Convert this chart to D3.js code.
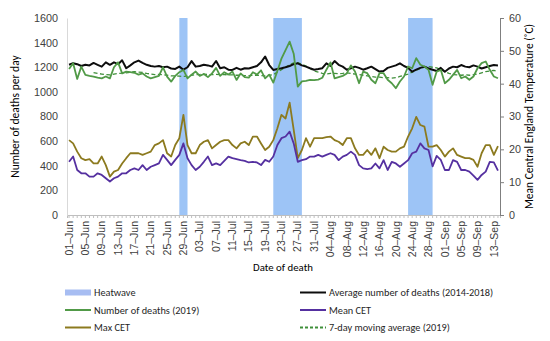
<!DOCTYPE html>
<html>
<head>
<meta charset="utf-8">
<script src="https://cdn.jsdelivr.net/npm/d3@7"></script>
<style>
  body { margin: 0; background: #fff; }
  svg { font-family: Carlito, Calibri, Lato, sans-serif; }
  .tick text { fill: #404040; }
</style>
</head>
<body>
<div id="chart"></div>
<script>
// days 01-Jun-2019 .. 14-Sep-2019
var firstDay = new Date(2019, 5, 1), nDays = 106;
var days = d3.range(nDays).map(function (i) { return d3.timeDay.offset(firstDay, i); });

var heatwaves = [["2019-06-28", "2019-06-29"], ["2019-07-21", "2019-07-27"], ["2019-08-23", "2019-08-28"]];

var avgDeaths = [1220,1233,1225,1210,1220,1215,1235,1220,1205,1240,
  1220,1240,1225,1256,1192,1215,1240,1254,1235,1220,
  1210,1205,1210,1200,1205,1190,1186,1205,1180,1200,
  1250,1205,1210,1220,1215,1205,1251,1192,1200,1180,
  1178,1195,1180,1192,1190,1200,1210,1240,1287,1218,
  1178,1185,1192,1200,1210,1225,1232,1215,1205,1192,
  1180,1185,1192,1232,1210,1250,1220,1205,1180,1192,
  1205,1195,1180,1192,1205,1185,1165,1170,1195,1205,
  1215,1232,1210,1195,1164,1180,1195,1205,1190,1180,
  1170,1195,1164,1190,1205,1200,1218,1205,1200,1215,
  1205,1190,1200,1210,1218,1215];

var deaths2019 = [1186,1232,1105,1205,1138,1130,1124,1115,1110,1125,
  1110,1200,1240,1150,1165,1160,1155,1140,1150,1125,
  1110,1120,1130,1200,1124,1083,1130,1160,1178,1110,
  1140,1165,1130,1145,1120,1150,1195,1130,1160,1140,
  1165,1097,1150,1120,1115,1160,1140,1175,1110,1140,
  1075,1170,1270,1340,1408,1310,1043,1085,1090,1097,
  1095,1100,1115,1180,1240,1110,1120,1130,1150,1215,
  1165,1070,1165,1152,1098,1070,1152,1152,1098,1070,
  1030,1084,1125,1206,1192,1274,1220,1206,1179,1057,
  1165,1179,1070,1098,1138,1179,1111,1125,1098,1125,
  1192,1233,1247,1179,1125,1111];

var movingAvg = [null,null,null,null,null,null,1156,1150,1145,1140,
  1138,1145,1150,1152,1155,1160,1165,1160,1158,1150,
  1145,1140,1142,1140,1135,1130,1130,1128,1125,1128,
  1135,1140,1142,1145,1140,1140,1142,1140,1140,1138,
  1138,1135,1135,1132,1132,1135,1135,1132,1130,1135,
  1140,1160,1180,1200,1220,1235,1237,1225,1210,1190,
  1170,1160,1150,1145,1150,1150,1148,1150,1155,1150,
  1145,1140,1135,1130,1125,1120,1120,1115,1115,1112,
  1115,1125,1135,1145,1160,1175,1190,1200,1205,1200,
  1195,1180,1165,1150,1140,1138,1135,1138,1135,1140,
  1145,1155,1165,1170,1175,1165];

var maxCET = [22.8,21.8,19.3,17.3,16.7,17.0,15.7,15.7,17.8,15.2,
  11.7,13.2,13.7,15.7,17.3,18.8,18.8,18.8,18.3,18.8,
  19.3,21.3,21.8,22.8,18.8,17.8,21.3,23.4,30.5,21.3,
  18.8,18.8,21.3,22.3,22.8,20.3,21.3,22.3,22.8,22.8,
  21.3,20.3,21.8,22.3,21.3,23.9,23.9,21.8,19.8,20.8,
  22.8,26.4,30.5,29.4,34.2,25.9,17.3,19.8,23.4,20.8,
  23.4,23.4,23.4,23.7,23.9,22.8,22.3,21.3,23.4,23.4,
  20.3,18.3,18.3,19.8,18.3,20.3,17.3,20.8,19.8,19.3,
  19.3,20.3,20.8,23.9,26.4,29.9,27.4,26.9,20.8,20.8,
  21.3,19.8,17.8,19.3,20.3,18.3,17.8,17.3,17.3,16.8,
  14.7,18.8,21.3,21.3,18.3,21.0];

var meanCET = [16.2,17.8,13.7,12.7,12.7,11.7,11.7,12.7,12.2,11.2,
  10.2,11.2,11.7,12.7,12.7,13.7,14.2,13.7,15.2,13.7,
  14.7,15.2,15.7,18.3,16.8,15.2,16.8,18.3,21.8,17.3,
  15.2,13.7,14.7,16.2,17.8,15.2,15.7,15.2,16.5,17.8,
  17.3,17.0,16.7,16.5,16.0,16.2,16.0,15.2,16.8,16.2,
  17.8,21.3,23.4,23.9,25.4,21.8,16.2,16.7,17.0,17.8,
  17.8,18.3,17.8,18.3,18.8,18.3,16.7,17.8,18.3,19.3,
  18.3,15.2,14.2,14.0,14.2,15.7,14.2,16.7,13.7,16.2,
  15.7,14.7,15.7,16.7,18.8,19.3,21.8,20.3,19.8,14.8,
  18.0,16.8,13.7,13.7,16.7,16.2,13.7,13.7,13.2,12.0,
  10.7,12.2,13.2,16.2,16.0,13.5];

var leftTicks = [0, 200, 400, 600, 800, 1000, 1200, 1400, 1600];
var rightTicks = [0, 10, 20, 30, 40, 50, 60];

var W = 550, H = 341;
var plot = { left: 67, right: 500, top: 18, bottom: 215 };

var svg = d3.select("#chart").append("svg").attr("width", W).attr("height", H);

var x = d3.scaleBand().domain(d3.range(nDays)).range([plot.left, plot.right]).padding(0);
var bw = x.bandwidth();
var cx = function (i) { return x(i) + bw / 2; };
var yL = d3.scaleLinear().domain([0, 1600]).range([plot.bottom, plot.top]);
var yR = d3.scaleLinear().domain([0, 60]).range([plot.bottom, plot.top]);
var parse = d3.timeParse("%Y-%m-%d");
var dayIndex = function (s) { return d3.timeDay.count(firstDay, parse(s)); };

// heatwave bands
svg.append("g").selectAll("rect").data(heatwaves).join("rect")
  .attr("x", function (d) { return cx(dayIndex(d[0])); })
  .attr("width", function (d) { return (dayIndex(d[1]) + 1 - dayIndex(d[0])) * bw; })
  .attr("y", plot.top).attr("height", plot.bottom - plot.top)
  .attr("fill", "#9dc4f6");

// axes
var fmt = d3.timeFormat("%d\u2013%b");
var xAxis = d3.axisBottom(x).tickSize(3).tickFormat(function (i) { return fmt(days[i]); });
var gx = svg.append("g").attr("transform", "translate(0," + plot.bottom + ")").call(xAxis);
gx.select(".domain").attr("stroke", "#bfbfbf");
gx.selectAll(".tick line").attr("stroke", "#bfbfbf");
gx.selectAll(".tick text")
  .style("display", function (i) { return i % 4 === 0 ? null : "none"; })
  .attr("font-size", 10.5)
  .attr("transform", "rotate(-90)")
  .attr("text-anchor", "end")
  .attr("x", -6).attr("y", 0).attr("dy", "0.35em");

var gl = svg.append("g").attr("transform", "translate(" + plot.left + ",0)")
  .call(d3.axisLeft(yL).tickValues(leftTicks).tickFormat(d3.format("d")).tickSize(0).tickPadding(9));
gl.select(".domain").attr("stroke", "#d9d9d9");
gl.selectAll(".tick text").attr("font-size", 10.8);

var gr = svg.append("g").attr("transform", "translate(" + plot.right + ",0)")
  .call(d3.axisRight(yR).tickValues(rightTicks).tickSize(4).tickSizeOuter(0).tickPadding(5));
gr.select(".domain").attr("stroke", "#7f7f7f");
gr.selectAll(".tick line").attr("stroke", "#7f7f7f");
gr.selectAll(".tick text").attr("font-size", 10.8);

// lines
var lineL = d3.line().defined(function (d) { return d != null; })
  .x(function (d, i) { return cx(i); }).y(function (d) { return yL(d); });
var lineR = d3.line().x(function (d, i) { return cx(i); }).y(function (d) { return yR(d); });

var series = [
  { data: maxCET, gen: lineR, color: "#8c7a1f", w: 1.8 },
  { data: meanCET, gen: lineR, color: "#5530a0", w: 1.8 },
  { data: movingAvg, gen: lineL, color: "#3f8f3a", w: 1.3, dash: "4,2.5" },
  { data: avgDeaths, gen: lineL, color: "#0d0d0d", w: 2 },
  { data: deaths2019, gen: lineL, color: "#519a47", w: 1.8 }
];
series.forEach(function (s) {
  svg.append("path").datum(s.data)
    .attr("fill", "none").attr("stroke", s.color).attr("stroke-width", s.w)
    .attr("stroke-linejoin", "round")
    .attr("stroke-dasharray", s.dash || null)
    .attr("d", s.gen);
});

// axis titles
svg.append("text").attr("transform", "translate(19," + ((plot.top + plot.bottom) / 2) + ") rotate(-90)")
  .attr("text-anchor", "middle").attr("font-size", 11.5).attr("fill", "#000").text("Number of deaths per day");
svg.append("text").attr("transform", "translate(533," + ((plot.top + plot.bottom) / 2) + ") rotate(-90)")
  .attr("text-anchor", "middle").attr("font-size", 11.5).attr("fill", "#000").text("Mean Central England Temperature (\u02DAC)");
svg.append("text").attr("x", 283).attr("y", 271).attr("text-anchor", "middle")
  .attr("font-size", 10.8).attr("fill", "#000").text("Date of death");

// legend
var legend = [
  { label: "Heatwave", type: "rect", color: "#a7bdf2", x: 65, y: 292.5 },
  { label: "Number of deaths (2019)", type: "line", color: "#519a47", x: 65, y: 310 },
  { label: "Max CET", type: "line", color: "#8c7a1f", x: 65, y: 327.5 },
  { label: "Average number of deaths (2014-2018)", type: "line", color: "#0d0d0d", x: 300, y: 292.5 },
  { label: "Mean CET", type: "line", color: "#5530a0", x: 300, y: 310 },
  { label: "7-day moving average (2019)", type: "line", color: "#3f8f3a", dash: "3,2", x: 300, y: 327.5 }
];
var lg = svg.append("g").selectAll("g").data(legend).join("g")
  .attr("transform", function (d) { return "translate(" + d.x + "," + d.y + ")"; });
lg.filter(function (d) { return d.type === "rect"; }).append("rect")
  .attr("x", 0).attr("y", -3).attr("width", 26).attr("height", 6).attr("fill", function (d) { return d.color; });
lg.filter(function (d) { return d.type === "line"; }).append("line")
  .attr("x1", 0).attr("x2", 26).attr("stroke-width", 2)
  .attr("stroke", function (d) { return d.color; })
  .attr("stroke-dasharray", function (d) { return d.dash || null; });
lg.append("text").attr("x", 29).attr("dy", "0.35em").attr("font-size", 10.3).attr("fill", "#262626")
  .text(function (d) { return d.label; });
</script>
</body>
</html>
